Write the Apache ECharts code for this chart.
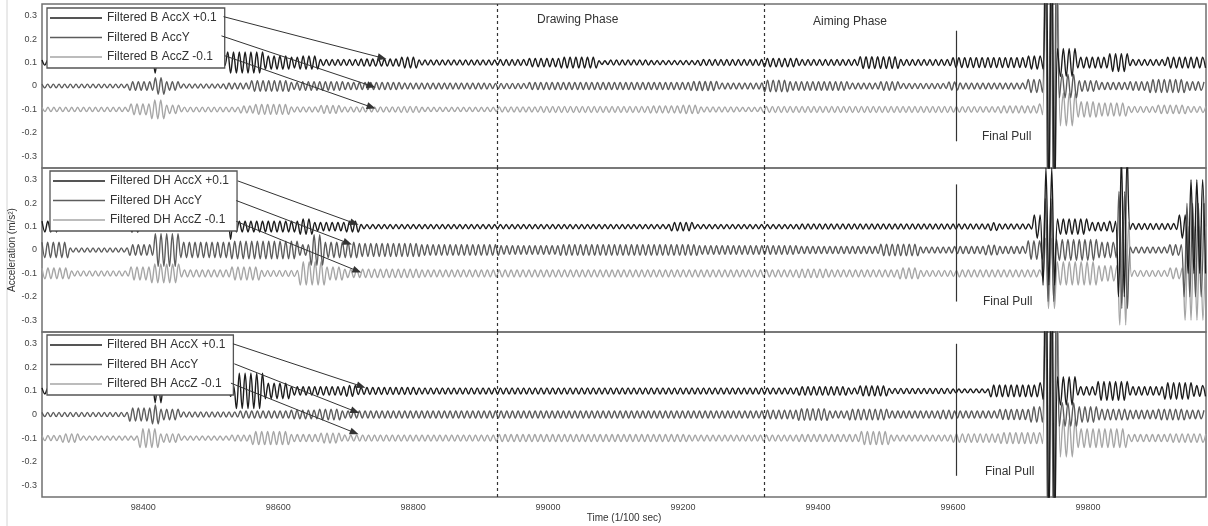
<!DOCTYPE html>
<html>
<head>
<meta charset="utf-8">
<script src="https://cdn.jsdelivr.net/npm/echarts@6/dist/echarts.min.js"></script>
<style>html,body{margin:0;background:#fff}#main{width:1208px;height:526px}</style>
</head>
<body>
<div id="main"></div>
<script>
var myChart = echarts.init(document.getElementById('main'));

// time axis (1/100 sec) and tick labels
var tMin = 98250, tMax = 99975;
var timeTicks = [98400, 98600, 98800, 99000, 99200, 99400, 99600, 99800];
var accTicks = [-0.3, -0.2, -0.1, 0, 0.1, 0.2, 0.3];

var sensors = ['B', 'DH', 'BH'];
var axesXYZ = ['X', 'Y', 'Z'];
var offsets = [0.1, 0, -0.1];
var suffix = [' +0.1', '', ' -0.1'];
var periods = [8.6, 8.4, 8.8];       // oscillation period
var phaseLines = [98925, 99320];      // drawing / aiming phase borders
var finalPull = 99605;

// envelope of each filtered trace: [time, amplitude]
var envB_X = [[98250,.011],[98380,.013],[98410,.045],[98425,.013],[98521,.045],[98580,.028],[98617,.023],[98632,.028],[98661,.013],[98720,.015],[98780,.023],[98809,.011],[98927,.013],[98972,.018],[99016,.023],[99075,.008],[99090,.011],[99149,.009],[99223,.013],[99319,.018],[99371,.013],[99460,.025],[99519,.013],[99600,.021],[99711,.028],[99735,.6],[99755,.06],[99785,.023],[99830,.038],[99859,.013],[99918,.023]];
var envB_Y = [[98250,.008],[98380,.018],[98417,.035],[98432,.018],[98454,.009],[98521,.013],[98558,.023],[98617,.015],[98632,.018],[98698,.015],[98780,.013],[98913,.011],[98972,.015],[99208,.019],[99250,.013],[99319,.025],[99356,.018],[99445,.013],[99489,.018],[99519,.011],[99590,.017],[99608,.013],[99711,.028],[99735,.6],[99755,.05],[99785,.023],[99815,.015],[99859,.018],[99889,.028],[99945,.018]];
var envB_Z = [[98250,.009],[98380,.023],[98410,.04],[98432,.018],[98454,.01],[98543,.015],[98565,.021],[98617,.011],[98661,.017],[98690,.011],[98780,.013],[98809,.009],[98927,.011],[98987,.013],[99149,.015],[99200,.018],[99223,.011],[99282,.009],[99319,.013],[99600,.012],[99667,.015],[99726,.023],[99735,.6],[99755,.07],[99785,.033],[99815,.028],[99859,.013],[99903,.018],[99945,.013]];
var envDH_X = [[98250,.023],[98277,.009],[98380,.023],[98395,.009],[98521,.055],[98535,.023],[98632,.033],[98654,.018],[98698,.023],[98720,.009],[99180,.018],[99215,.009],[99371,.011],[99652,.017],[99667,.011],[99719,.05],[99733,.25],[99752,.033],[99800,.018],[99830,.023],[99845,.3],[99862,.013],[99933,.05],[99945,.2]];
var envDH_Y = [[98250,.033],[98290,.009],[98380,.023],[98417,.07],[98454,.033],[98528,.038],[98632,.023],[98646,.065],[98669,.033],[98720,.028],[98809,.023],[98927,.018],[99016,.023],[99223,.018],[99371,.015],[99489,.025],[99549,.013],[99600,.015],[99645,.021],[99667,.015],[99711,.04],[99733,.22],[99752,.045],[99815,.033],[99845,.25],[99862,.013],[99918,.023],[99940,.2]];
var envDH_Z = [[98250,.023],[98290,.011],[98380,.028],[98410,.04],[98454,.015],[98528,.028],[98572,.013],[98632,.05],[98669,.028],[98698,.018],[98809,.015],[99371,.018],[99415,.015],[99519,.023],[99549,.013],[99608,.015],[99733,.15],[99752,.05],[99815,.033],[99845,.22],[99862,.013],[99918,.023],[99940,.2]];
var envBH_X = [[98250,.013],[98410,.05],[98432,.013],[98521,.023],[98535,.075],[98580,.033],[98617,.018],[98698,.023],[98715,.015],[98809,.013],[99371,.018],[99445,.013],[99460,.021],[99504,.011],[99600,.008],[99652,.025],[99726,.035],[99735,.6],[99755,.06],[99785,.018],[99815,.04],[99859,.018],[99910,.035],[99955,.023]];
var envBH_Y = [[98250,.009],[98380,.028],[98410,.04],[98425,.023],[98454,.011],[98543,.015],[98617,.018],[98661,.023],[98691,.015],[98809,.015],[99319,.018],[99371,.025],[99415,.015],[99445,.023],[99504,.015],[99578,.018],[99600,.015],[99667,.021],[99715,.033],[99735,.6],[99755,.05],[99785,.033],[99815,.023],[99859,.018],[99903,.023],[99945,.018]];
var envBH_Z = [[98250,.011],[98277,.018],[98306,.009],[98395,.04],[98425,.018],[98454,.009],[98528,.013],[98560,.028],[98617,.015],[98661,.021],[98690,.013],[98809,.013],[98927,.015],[99208,.013],[99371,.015],[99460,.028],[99504,.013],[99600,.018],[99667,.023],[99735,.6],[99755,.08],[99785,.04],[99859,.015],[99918,.018]];

var envs = [[envB_X, envB_Y, envB_Z], [envDH_X, envDH_Y, envDH_Z], [envBH_X, envBH_Y, envBH_Z]];

// arrows from the legend rows to the traces: [[t0, v0], [t1, v1]]
var arrows = [
    [[[98519, .296], [98754, .12]], [[98516, .214], [98738, 0]], [[98521, .129], [98738, -.09]]],
    [[[98540, .295], [98713, .114]], [[98538, .211], [98703, .03]], [[98538, .122], [98717, -.089]]],
    [[[98533, .30], [98723, .12]], [[98535, .215], [98714, .013]], [[98530, .133], [98713, -.077]]]
];
var pullLine = [[.236, -.236], [.28, -.22], [.30, -.26]];

var colors = ['#1c1c1c', '#5c5c5c', '#a6a6a6'];
var font = 'Liberation Sans';
var gridTop = [4, 168, 332];
var gridH = [164, 164, 165];
var legendPos = [[47, 8], [50, 171], [47, 335]];

// peaks of the trace, half a period apart, sized by the envelope
function trace(env, off, period) {
    var pts = [], half = period / 2, j = 0, k = 0;
    for (var t = tMin; t <= tMax; t += half, k++) {
        while (j + 1 < env.length && env[j + 1][0] <= t) j++;
        var a = env[j][1];
        pts.push([t, off + (k % 2 ? -a : a)]);
    }
    return pts;
}

var grid = [], xAxis = [], yAxis = [], series = [], legend = [];
for (var p = 0; p < 3; p++) {
    grid.push({left: 42, right: 2, top: gridTop[p], height: gridH[p], show: true,
        outerBoundsMode: 'none', containLabel: false,
        borderColor: '#707070', borderWidth: 1.5});
    xAxis.push({type: 'value', gridIndex: p, min: tMin, max: tMax, interval: 25,
        axisLine: {show: false}, axisTick: {show: false}, splitLine: {show: false},
        axisLabel: {show: p == 2, fontFamily: font, fontSize: 9, color: '#444', margin: 6,
            formatter: function (v) { return timeTicks.indexOf(v) >= 0 ? String(v) : ''; }},
        name: p == 2 ? 'Time (1/100 sec)' : '', nameLocation: 'middle', nameGap: 16,
        nameMoveOverlap: false,
        nameTextStyle: {fontFamily: font, fontSize: 10, color: '#333'}});
    yAxis.push({type: 'value', gridIndex: p, min: -0.35, max: 0.35, interval: 0.05,
        axisLine: {show: false}, axisTick: {show: false}, splitLine: {show: false},
        axisLabel: {fontFamily: font, fontSize: 9, color: '#444', margin: 5,
            formatter: function (v) {
                for (var i = 0; i < accTicks.length; i++) {
                    if (Math.abs(accTicks[i] - v) < 1e-6) return String(accTicks[i]);
                }
                return '';
            }},
        name: p == 1 ? 'Acceleration (m/s²)' : '', nameLocation: 'middle', nameGap: 25,
        nameMoveOverlap: false,
        nameTextStyle: {fontFamily: font, fontSize: 10, color: '#333'}});
    var names = [];
    for (var a = 0; a < 3; a++) {
        var name = 'Filtered ' + sensors[p] + ' Acc' + axesXYZ[a] + suffix[a];
        names.push(name);
        var s = {
            name: name, type: 'line', xAxisIndex: p, yAxisIndex: p,
            data: trace(envs[p][a], offsets[a], periods[a]),
            showSymbol: false, symbol: 'none', smooth: 0.35, silent: true,
            color: colors[a], lineStyle: {width: 1.4, color: colors[a]}, z: 3 - a
        };
        if (a == 0) {
            s.markLine = {silent: true, symbol: ['none', 'triangle'], symbolSize: [7, 9],
                label: {show: false}, lineStyle: {color: '#333', width: 1, type: 'solid'},
                data: arrows[p].map(function (ar) {
                    return [{coord: ar[0]}, {coord: ar[1]}];
                })};
        }
        if (a == 1) {
            s.markLine = {silent: true, symbol: 'none', label: {show: false},
                data: [
                    {xAxis: phaseLines[0], lineStyle: {color: '#333', width: 1.2, type: [3, 3]}},
                    {xAxis: phaseLines[1], lineStyle: {color: '#333', width: 1.2, type: [3, 3]}},
                    [{coord: [finalPull, pullLine[p][0]], lineStyle: {color: '#333', width: 1.2, type: 'solid'}},
                     {coord: [finalPull, pullLine[p][1]]}]
                ]};
        }
        series.push(s);
    }
    legend.push({data: names, orient: 'vertical', left: legendPos[p][0], top: legendPos[p][1],
        icon: 'rect', itemWidth: 52, itemHeight: 1.6, itemGap: 4.5, selectedMode: false,
        backgroundColor: '#fff', borderColor: '#555', borderWidth: 1.3, borderRadius: 0,
        padding: [2.5, 8, 3.5, 3],
        textStyle: {fontFamily: font, fontSize: 12, color: '#333', lineHeight: 15}});
}

var textStyle = {fontFamily: font, fill: '#333'};
var option = {
    animation: false,
    backgroundColor: '#fff',
    grid: grid, xAxis: xAxis, yAxis: yAxis, legend: legend, series: series,
    graphic: [
        {type: 'line', shape: {x1: 7, y1: 0, x2: 7, y2: 526}, style: {stroke: '#d4d4d4', lineWidth: 1}},
        {type: 'text', left: 537, top: 14, style: Object.assign({text: 'Drawing Phase', font: '12px ' + font}, textStyle)},
        {type: 'text', left: 813, top: 16, style: Object.assign({text: 'Aiming Phase', font: '12px ' + font}, textStyle)},
        {type: 'text', left: 982, top: 131, style: Object.assign({text: 'Final Pull', font: '10px ' + font}, textStyle)},
        {type: 'text', left: 983, top: 296, style: Object.assign({text: 'Final Pull', font: '10px ' + font}, textStyle)},
        {type: 'text', left: 985, top: 466, style: Object.assign({text: 'Final Pull', font: '10px ' + font}, textStyle)}
    ]
};
myChart.setOption(option);
window.onresize = myChart.resize;
</script>
</body>
</html>
